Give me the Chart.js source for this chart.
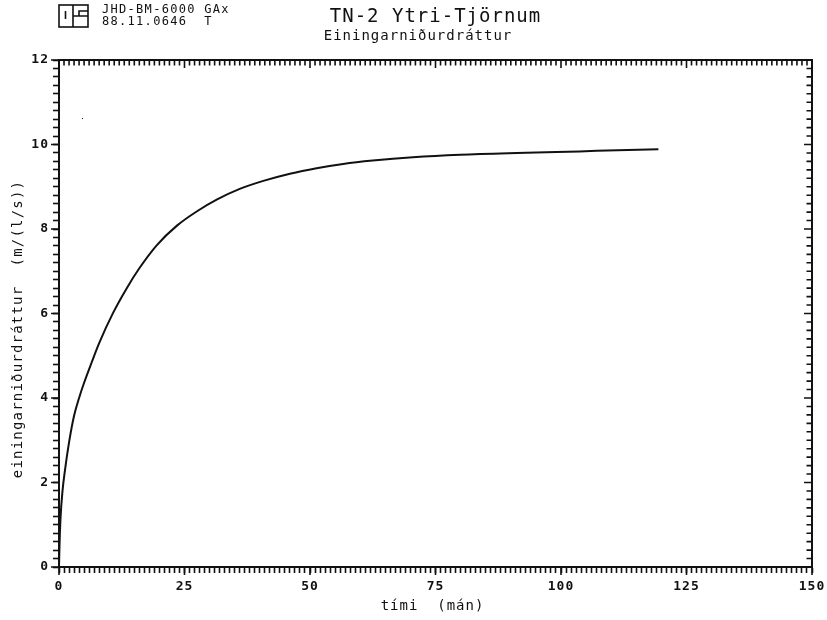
<!DOCTYPE html>
<html>
<head>
<meta charset="utf-8">
<style>html,body{margin:0;padding:0;background:#fff}canvas{display:block}</style>
<script src="https://cdn.jsdelivr.net/npm/chart.js@4"></script>
</head>
<body>
<canvas id="c" width="827" height="620"></canvas>
<script>
const timeMonths = [0,0.1,0.3,0.7,1.2,2,3,4,5,6.5,8,10.8,13.5,16,19.5,23.5,27.5,31.5,36,40.7,46,51.3,56.6,62.5,70.5,79.9,91.2,99.1,107.1,119.4];
const drawdown = [0,0.5,1.15,1.8,2.3,2.95,3.58,4.0,4.36,4.84,5.3,6.02,6.6,7.07,7.62,8.08,8.42,8.7,8.95,9.14,9.31,9.44,9.54,9.62,9.7,9.76,9.8,9.82,9.85,9.89];
const titleText = 'TN-2 Ytri-Tjörnum';
const subtitleText = 'Einingarniðurdráttur';
const xAxisTitle = 'tími  (mán)';
const yAxisTitle = 'einingarniðurdráttur  (m/(l/s))';
const headerLines = ['JHD-BM-6000 GAx', '88.11.0646  T'];
const FONT = '"DejaVu Sans Mono", monospace';
const INK = '#111';

const frame = {
  id: 'frame',
  beforeDraw(chart) { chart.ctx.letterSpacing = '1px'; },
  afterDraw(chart) {
    const {ctx, chartArea: a, scales: {x, y}} = chart;
    ctx.save();
    ctx.strokeStyle = INK;
    ctx.lineWidth = 2;
    ctx.strokeRect(a.left, a.top, a.right - a.left, a.bottom - a.top);
    ctx.lineWidth = 1.6;
    ctx.beginPath();
    x.ticks.forEach(t => {
      const p = x.getPixelForValue(t.value);
      const major = Math.round(t.value) % 25 === 0;
      ctx.moveTo(p, a.top);
      ctx.lineTo(p, a.top + (major ? 8 : 5.5));
      if (major) { ctx.moveTo(p, a.bottom); ctx.lineTo(p, a.bottom + 8); }
    });
    y.ticks.forEach(t => {
      const p = y.getPixelForValue(t.value);
      const major = Math.round(t.value * 5) % 10 === 0;
      ctx.moveTo(a.right, p);
      ctx.lineTo(a.right - (major ? 8 : 5.5), p);
      if (major) { ctx.moveTo(a.left, p); ctx.lineTo(a.left - 8, p); }
    });
    ctx.stroke();
    ctx.fillStyle = INK;
    ctx.textBaseline = 'middle';
    // header stamp
    ctx.letterSpacing = '1.3px';
    ctx.font = '12px ' + FONT;
    ctx.textAlign = 'left';
    ctx.fillText(headerLines[0], 102, 10);
    ctx.fillText(headerLines[1], 102, 22);
    // subtitle and axis titles
    ctx.letterSpacing = '1px';
    ctx.font = '14px ' + FONT;
    ctx.textAlign = 'center';
    ctx.fillText(subtitleText, 418, 36);
    ctx.fillText(xAxisTitle, 432.5, 606);
    ctx.save();
    ctx.letterSpacing = '1.2px';
    ctx.translate(18, 329);
    ctx.rotate(-Math.PI / 2);
    ctx.fillText(yAxisTitle, 0, 0);
    ctx.restore();
    // logo
    ctx.lineWidth = 1.6;
    ctx.strokeRect(59, 5, 29, 22);
    ctx.beginPath();
    ctx.moveTo(73, 5); ctx.lineTo(73, 27);
    ctx.moveTo(65.5, 11); ctx.lineTo(65.5, 19);
    ctx.moveTo(88, 11); ctx.lineTo(79, 11); ctx.lineTo(79, 16); ctx.lineTo(73, 16);
    ctx.moveTo(79, 16); ctx.lineTo(88, 16);
    ctx.stroke();
    ctx.fillRect(82, 118, 1, 1);
    ctx.restore();
  }
};

new Chart(document.getElementById('c'), {
  type: 'scatter',
  data: {
    datasets: [{
      data: timeMonths.map((t, i) => ({x: t, y: drawdown[i]})),
      showLine: true,
      borderColor: INK,
      borderWidth: 2,
      pointRadius: 0,
      cubicInterpolationMode: 'monotone',
      fill: false
    }]
  },
  plugins: [frame],
  options: {
    responsive: false,
    animation: false,
    layout: {padding: {left: 0, right: 15, top: 0, bottom: 0}},
    plugins: {
      legend: {display: false},
      tooltip: {enabled: false},
      title: {
        display: true, text: titleText, fullSize: false, color: INK,
        font: {family: FONT, size: 19, weight: 'normal', lineHeight: 1},
        padding: {top: 8, bottom: 33}
      }
    },
    scales: {
      x: {
        type: 'linear', min: 0, max: 150,
        afterFit(s) { s.height = 53; s.paddingLeft = 0; s.paddingRight = 0; },
        grid: {drawOnChartArea: false, tickLength: 6, tickWidth: 1.6, tickColor: INK},
        border: {color: INK, width: 2},
        ticks: {
          stepSize: 1, autoSkip: false, maxRotation: 0, minRotation: 0, padding: 6, color: INK,
          font: {family: FONT, size: 13, weight: 'bold'},
          callback: v => (Math.round(v) % 25 === 0 ? String(Math.round(v)) : '')
        }
      },
      y: {
        type: 'linear', min: 0, max: 12,
        afterFit(s) { s.width = 59; s.paddingTop = 0; s.paddingBottom = 0; },
        grid: {drawOnChartArea: false, tickLength: 6, tickWidth: 1.6, tickColor: INK},
        border: {color: INK, width: 2},
        ticks: {
          stepSize: 0.2, autoSkip: false, padding: 4, color: INK,
          font: {family: FONT, size: 13, weight: 'bold'},
          callback: v => { const r = Math.round(v * 5); return r % 10 === 0 ? String(r / 5) : ''; }
        }
      }
    }
  }
});
</script>
</body>
</html>
